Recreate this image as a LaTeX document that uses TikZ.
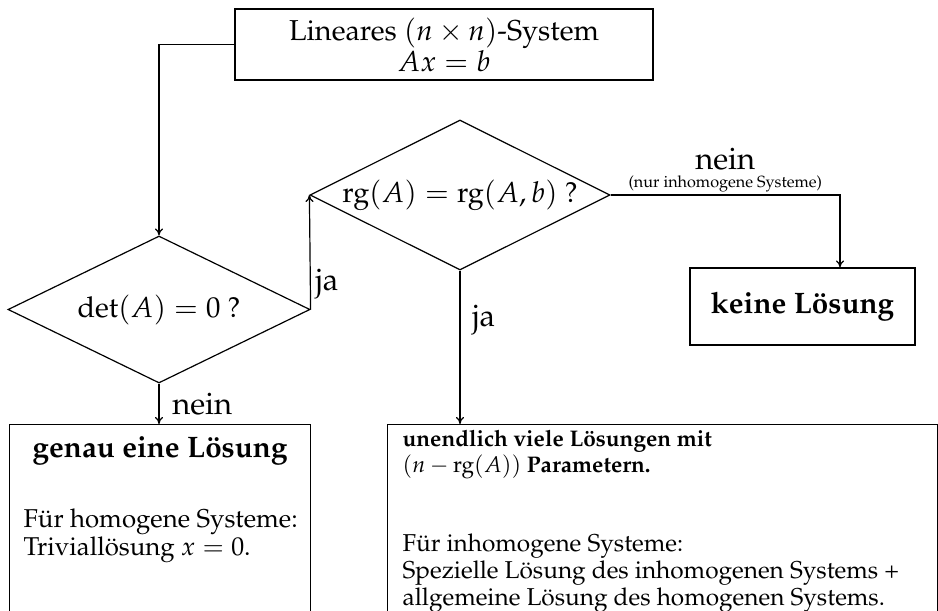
\documentclass[tikz,border=0pt]{standalone}
\usepackage[T1]{fontenc}
\usepackage{mathpazo}
\usetikzlibrary{shapes.geometric, arrows.meta, positioning, calc}
\DeclareRobustCommand{\rang}{\mathrm{rg}}
\newcommand{\txtsize}{\fontsize{12.2}{11.5}\selectfont}
\newcommand{\bigsize}{\fontsize{14.4}{14.5}\selectfont}
\newcommand{\headsize}{\fontsize{14.8}{16}\selectfont}
\newcommand{\lblsize}{\fontsize{15.5}{9}\selectfont}

\begin{document}
\begin{tikzpicture}[
    x=0.5pt, y=-0.5pt,
    line width=0.6pt,
    box/.style={draw, align=center, inner sep=0pt, font=\bigsize},
    decision/.style={draw, diamond, aspect=2, inner sep=0pt, font=\bigsize},
    result/.style={draw, anchor=north west, inner sep=0pt, font=\txtsize},
    arr/.style={-{To[length=3.5pt, width=4pt]}},
    lbl/.style={font=\lblsize}
]
\useasboundingbox (0,0) rectangle (938,611);

\node[box, minimum width=209pt, minimum height=35.5pt] (sys) at (444,44.5) {Lineares $(n\times n)$-System\\$Ax=b$};
\node[decision, minimum width=151pt, minimum height=73.5pt] (det) at (159,309.5) {$\det(A)=0$ ?};
\node[decision, minimum width=150pt, minimum height=75pt] (rank) at (460,195) {$\rang(A)=\rang(A,b)$ ?};
\node[box, minimum width=112.5pt, minimum height=38.5pt, font=\headsize\bfseries] (none) at (802.5,306.5) {keine L\"osung};
\node[result] (one) at (9,424) {%
  \begin{minipage}[t][93.5pt][t]{150.5pt}
  \vspace{6pt}
  {\centering\headsize\bfseries genau eine L\"osung\par}
  \vspace{21pt}
  \leftskip=7pt
  \fontsize{12.9}{11.6}\selectfont
  F\"ur homogene Systeme:\\
  Triviall\"osung $x=0$.
  \end{minipage}};
\node[result] (many) at (387,424) {%
  \begin{minipage}[t][93.5pt][t]{275pt}
  \vspace{3pt}
  \leftskip=7.5pt
  {\fontsize{11.3}{13}\selectfont\bfseries unendlich viele L\"osungen mit\par
  $(n-\rang(A))$ Parametern.\par}
  \vspace{26.5pt}
  F\"ur inhomogene Systeme:\\
  Spezielle L\"osung des inhomogenen Systems +\\
  allgemeine L\"osung des homogenen Systems.
  \end{minipage}};

\coordinate (drop) at ([xshift=18.75pt]none.north);

\draw[arr] (sys.west) -| (det.north);
\draw[arr] (det.east) -- node[lbl, right, pos=0.22, xshift=-1pt]{ja} (rank.west);
\draw[arr] (det.south) -- node[lbl, right, xshift=3pt]{nein} (one.north -| det.south);
\draw[arr] (rank.south) -- node[lbl, right, pos=0.325, xshift=2.5pt]{ja} (many.north -| rank.south);
\draw[arr] (rank.east) -| node[lbl, above, pos=0.25, inner sep=1pt, align=center]{nein\\{\fontsize{8.1}{9}\selectfont (nur inhomogene Systeme)}} (drop);
\end{tikzpicture}
\end{document}
